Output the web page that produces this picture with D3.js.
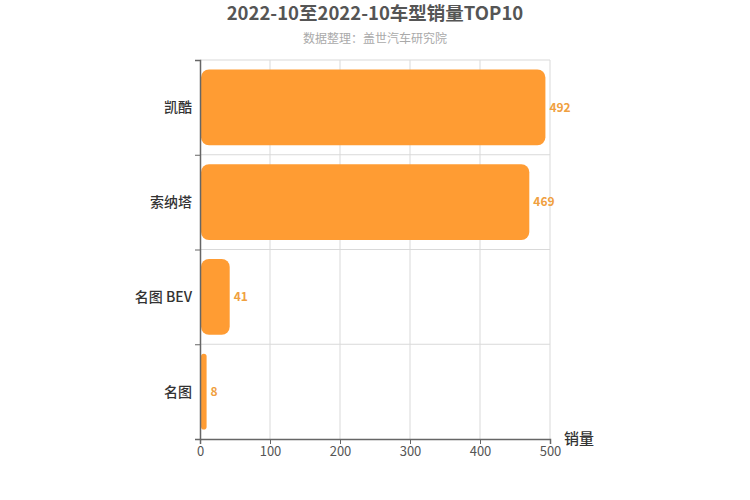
<!DOCTYPE html>
<html lang="en">
<head>
    <meta charset="UTF-8">
    <script src="https://cdnjs.cloudflare.com/ajax/libs/d3/7.8.5/d3.min.js"></script>
    <style>
        body { margin: 0; background: #fff; }
        text { font-family: "Noto Sans CJK SC", "Noto Sans", sans-serif; }
    </style>
</head>
<body>
    <svg id="chart" width="750" height="500"></svg>
    <script>
        const categories = ['凯酷', '索纳塔', '名图 BEV', '名图'];
        const sales = [492, 469, 41, 8];
        const xTicks = [0, 100, 200, 300, 400, 500];

        const svg = d3.select('#chart');
        const plotLeft = 200, plotRight = 550, plotTop = 60, plotBottom = 439;

        const xScale = d3.scaleLinear().domain([0, 500]).range([plotLeft, plotRight]);
        const yScale = d3.scaleBand().domain(categories).range([plotTop, plotBottom]).paddingInner(0).paddingOuter(0);

        // grid
        svg.append('g').selectAll('line')
            .data(xTicks.slice(1))
            .join('line')
            .attr('x1', d => xScale(d)).attr('x2', d => xScale(d))
            .attr('y1', plotTop).attr('y2', plotBottom)
            .attr('stroke', '#d9d9d9');
        svg.append('g').selectAll('line')
            .data(categories)
            .join('line')
            .attr('x1', plotLeft).attr('x2', plotRight)
            .attr('y1', d => yScale(d)).attr('y2', d => yScale(d))
            .attr('stroke', '#d9d9d9');

        // bars
        const inset = yScale.bandwidth() * 0.1;
        svg.append('g').selectAll('rect')
            .data(categories)
            .join('rect')
            .attr('x', xScale(0) + 1)
            .attr('y', d => yScale(d) + inset)
            .attr('width', (d, i) => xScale(sales[i]) - xScale(0))
            .attr('height', yScale.bandwidth() - 2 * inset)
            .attr('rx', (d, i) => Math.min(8, (xScale(sales[i]) - xScale(0)) / 2))
            .attr('fill', '#ff9c33');

        svg.append('g').selectAll('text')
            .data(categories)
            .join('text')
            .attr('x', (d, i) => xScale(sales[i]) + 5)
            .attr('y', d => yScale(d) + yScale.bandwidth() / 2)
            .attr('dy', '0.35em')
            .attr('font-size', 12)
            .attr('font-weight', 'bold')
            .attr('fill', '#f0a040')
            .text((d, i) => sales[i]);

        // axes
        const xAxis = d3.axisBottom(xScale).tickValues(xTicks).tickSize(5).tickPadding(3);
        const xg = svg.append('g').attr('transform', `translate(0,${plotBottom})`).call(xAxis);
        xg.select('.domain').attr('stroke', '#666').attr('stroke-width', 1.5);
        xg.selectAll('.tick line').attr('stroke', '#666');
        xg.selectAll('.tick text').attr('fill', '#555').attr('font-size', 13)
            .style('font-family', '"Noto Sans CJK SC", sans-serif');

        const yAxis = d3.axisLeft(d3.scaleLinear().domain([0, categories.length]).range([plotBottom, plotTop]))
            .ticks(categories.length).tickSize(5).tickFormat('');
        const yg = svg.append('g').attr('transform', `translate(${plotLeft},0)`).call(yAxis);
        yg.select('.domain').attr('stroke', '#666').attr('stroke-width', 1.5);
        yg.selectAll('.tick line').attr('stroke', '#666');

        svg.append('g').selectAll('text')
            .data(categories)
            .join('text')
            .attr('x', plotLeft - 8)
            .attr('y', d => yScale(d) + yScale.bandwidth() / 2)
            .attr('dy', '0.35em')
            .attr('text-anchor', 'end')
            .attr('font-size', 14)
            .attr('font-weight', 500)
            .attr('fill', '#333')
            .text(d => d);

        svg.append('text')
            .attr('x', 564).attr('y', 444)
            .attr('font-size', 15)
            .attr('font-weight', 500)
            .attr('fill', '#333')
            .text('销量');

        svg.append('text')
            .attr('x', 375).attr('y', 20)
            .attr('text-anchor', 'middle')
            .attr('font-size', 18.5)
            .attr('font-weight', 'bold')
            .attr('fill', '#555')
            .text('2022-10至2022-10车型销量TOP10');

        svg.append('text')
            .attr('x', 375).attr('y', 43)
            .attr('text-anchor', 'middle')
            .attr('font-size', 12)
            .attr('fill', '#aaa')
            .text('数据整理：盖世汽车研究院');
    </script>
</body>
</html>
